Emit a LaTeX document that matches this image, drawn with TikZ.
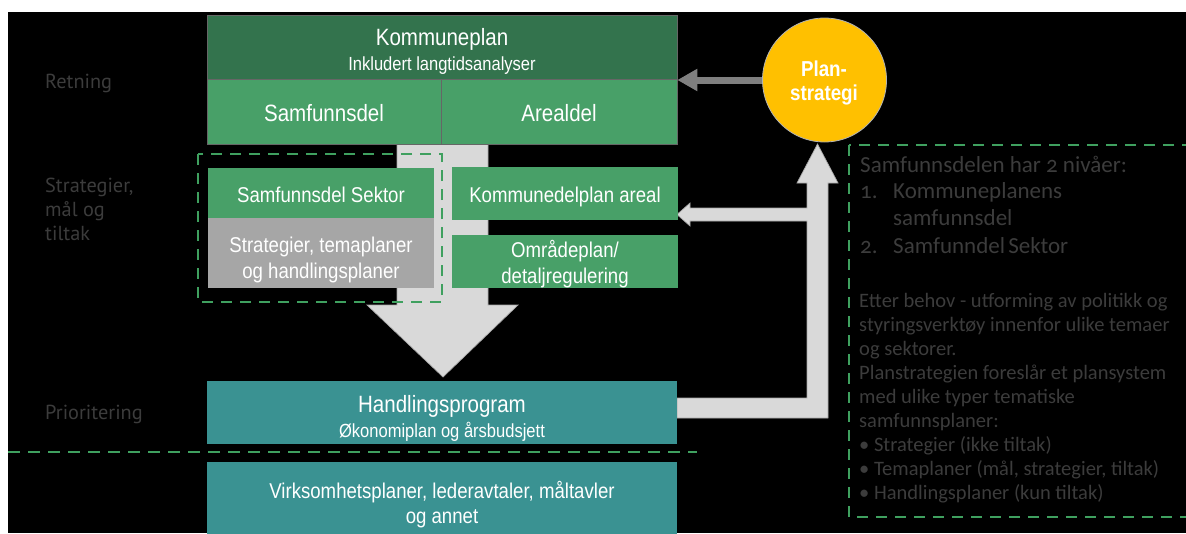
\documentclass[tikz,border=0pt]{standalone}
\usepackage{fontspec}
\setmainfont{Liberation Sans}
\newfontfamily\boxfont[FakeStretch=0.87]{Liberation Sans}
\newfontfamily\lblfont{PT Sans}
\newfontfamily\notefont[Numbers=OldStyle]{Carlito}
\usetikzlibrary{arrows.meta}
\definecolor{kpgreen}{HTML}{33734D}
\definecolor{ltgreen}{HTML}{48A068}
\definecolor{hpteal}{HTML}{3A9292}
\definecolor{boxgray}{HTML}{A6A6A6}
\definecolor{arrowlt}{HTML}{D9D9D9}
\definecolor{arrowdk}{HTML}{7F7F7F}
\definecolor{sun}{HTML}{FFC000}
\definecolor{dashgreen}{HTML}{3FA05F}
\definecolor{dimtext}{HTML}{3C3C3C}
\begin{document}
\begin{tikzpicture}[x=1pt,y=-1pt,
  blk/.style={draw=gray!80!black, line width=0.6pt, inner sep=0pt, minimum width=#1},
  plain/.style={inner sep=0pt, minimum width=#1},
  tbig/.style={inner sep=0pt, anchor=base, text=white, font=\boxfont\fontsize{23.6pt}{27pt}\selectfont},
  tmid/.style={inner sep=0pt, anchor=base, text=white, font=\boxfont\fontsize{21.4pt}{27pt}\selectfont},
  tsmall/.style={inner sep=0pt, anchor=base, text=white, font=\boxfont\fontsize{19pt}{25pt}\selectfont},
  lbl/.style={inner sep=0pt, anchor=base west, text=dimtext, font=\lblfont\fontsize{20.3pt}{24pt}\selectfont},
  notebig/.style={inner sep=0pt, anchor=base west, text=dimtext, font=\notefont\fontsize{23pt}{27pt}\selectfont},
  notesm/.style={inner sep=0pt, anchor=base west, text=dimtext, font=\notefont\fontsize{20.5pt}{24pt}\selectfont},
  dashbox/.style={draw=dashgreen, line width=2.5pt, dash pattern=on 11pt off 8pt},
  fatarrow/.style={fill=arrowlt, draw=gray!70, line width=0.7pt, line join=miter}
]
\useasboundingbox (0,0) rectangle (1186,533);
\fill[white] (0,0) rectangle (1186,533);
\fill[black] (8,12) rectangle (1186,533);
\begin{scope}
\clip (8,12) rectangle (1186,533);

% big downward arrow (behind the boxes)
\path[fatarrow] (397,144) -- (488,144) -- (488,305) -- (518,305) -- (443,377)
   -- (367,305) -- (397,305) -- cycle;

% L-shaped arrow from Handlingsprogram up to Planstrategi, with branch to Kommunedelplan areal
\path[fatarrow] (677,398) -- (807,398) -- (807,221) -- (690,221) -- (690,226)
   -- (677,214.5) -- (690,203) -- (690,208) -- (807,208) -- (807,183)
   -- (797,183) -- (817.5,144) -- (838,183) -- (828,183) -- (828,418)
   -- (677,418) -- cycle;

% boxes
\node[blk=470pt, minimum height=64pt, fill=kpgreen] (kp) at (442,47) {};
\node[blk=234pt, minimum height=65pt, fill=ltgreen] (samf) at (324,111.5) {};
\node[blk=236pt, minimum height=65pt, fill=ltgreen] (areal) at (559,111.5) {};
\node[plain=226pt, minimum height=50pt, fill=ltgreen] (sektor) at (321,193) {};
\node[plain=226pt, minimum height=70pt, fill=boxgray] (strat) at (321,253) {};
\node[plain=226pt, minimum height=53pt, fill=ltgreen] (kdp) at (565,193.5) {};
\node[plain=226pt, minimum height=53pt, fill=ltgreen] (omr) at (565,261.5) {};
\node[plain=470pt, minimum height=63pt, fill=hpteal] (hp) at (442,412.5) {};
\node[plain=470pt, minimum height=81pt, fill=hpteal] (virk) at (442,502.5) {};

% texts in boxes
\node[tbig] (kpt1) at (442,45) {Kommuneplan};
\node[tsmall] (kpt2) at (442,70) {Inkludert langtidsanalyser};
\node[tbig] (samft) at (samf.center |- 0,121) {Samfunnsdel};
\node[tbig] (arealt) at (areal.center |- 0,121) {Arealdel};
\node[tmid] (sektort) at (321,202) {Samfunnsdel Sektor};
\node[tmid] (stratt1) at (321,252) {Strategier, temaplaner};
\node[tmid] (stratt2) at (321,278) {og handlingsplaner};
\node[tmid] (kdpt) at (565,202) {Kommunedelplan areal};
\node[tmid] (omrt1) at (565,257) {Områdeplan/};
\node[tmid] (omrt2) at (565,283) {detaljregulering};
\node[tbig] (hpt1) at (442,412) {Handlingsprogram};
\node[tsmall] (hpt2) at (442,437) {Økonomiplan og årsbudsjett};
\node[tmid] (virkt1) at (442,498) {Virksomhetsplaner, lederavtaler, måltavler};
\node[tmid] (virkt2) at (442,523) {og annet};

% Planstrategi circle
\node[circle, fill=sun, draw=gray!60, line width=0.8pt, minimum size=124pt, inner sep=0pt] (ps) at (824.5,80) {};
\node[inner sep=0pt, anchor=base, text=white, font=\boxfont\bfseries\fontsize{21.6pt}{26pt}\selectfont] (pst1) at (824,76) {Plan-};
\node[inner sep=0pt, anchor=base, text=white, font=\boxfont\bfseries\fontsize{21.6pt}{26pt}\selectfont] (pst2) at (824,100) {strategi};

% grey arrow Planstrategi -> Kommuneplan
\draw[arrowdk, line width=7pt, -{Triangle[length=20pt,width=21pt]}] (ps.west) -- (kp.east |- ps.west);

% dashed frames and divider
\draw[dashbox] (198,154) rectangle (442,302);
\draw[dashbox] (849,145) rectangle (1200,517);
\draw[draw=dashgreen, line width=2pt, dash pattern=on 12pt off 8pt] (8,452) -- (697,452);

% left labels
\node[lbl] (l1) at (45,88) {Retning};
\node[lbl] (l2) at (45,192) {Strategier,};
\node[lbl] (l3) at (45,216) {mål og};
\node[lbl] (l4) at (45,240) {tiltak};
\node[lbl] (l5) at (45,419) {Prioritering};

% right note
\node[notebig] (n1) at (860,172) {Samfunnsdelen har 2 nivåer:};
\node[notebig] (n2a) at (860,198) {1.};
\node[notebig] (n2b) at (893,198) {Kommuneplanens};
\node[notebig] (n3) at (893,225) {samfunnsdel};
\node[notebig] (n4a) at (860,253) {2.};
\node[notebig] (n4b) at (893,253) {Samfunndel\hspace{-2pt} Sektor};
\foreach \t [count=\i] in {Etter behov - utforming av politikk og,
  styringsverktøy innenfor ulike temaer,
  og sektorer.,
  Planstrategien foreslår et plansystem,
  med ulike typer tematiske,
  samfunnsplaner:,
  • Strategier (ikke tiltak),
  {• Temaplaner (mål, strategier, tiltak)},
  • Handlingsplaner (kun tiltak)}
  \node[notesm] (s\i) at (859,{307+24.1*(\i-1)}) {\t};
\end{scope}
\end{tikzpicture}
\end{document}
